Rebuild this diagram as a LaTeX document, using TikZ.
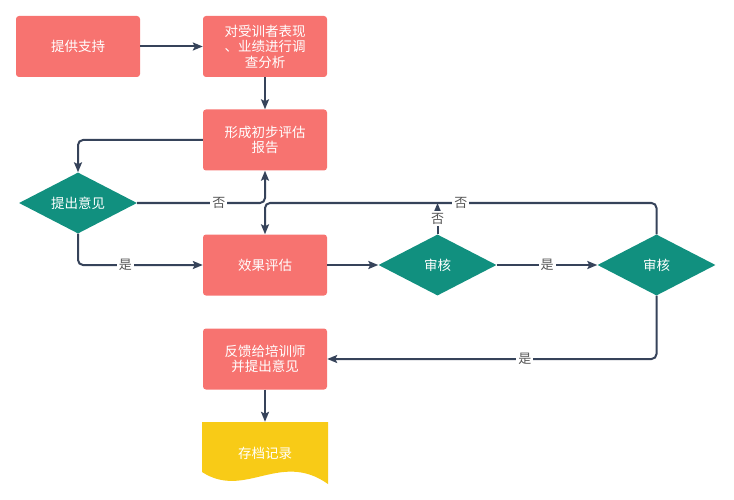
\documentclass[tikz,border=0pt]{standalone}
\usepackage{fontspec}
\setmainfont{Noto Sans CJK SC}
\usepackage{tikz}
\usetikzlibrary{arrows.meta,shapes.geometric,positioning}
\definecolor{boxred}{HTML}{F77370}
\definecolor{decteal}{HTML}{11907F}
\definecolor{docyellow}{HTML}{F8CB17}
\definecolor{flowline}{HTML}{36435A}
\definecolor{labeltext}{HTML}{555555}

\begin{document}
\begin{tikzpicture}[x=1pt,y=-1pt,
    stepbox/.style={fill=boxred, rounded corners=3pt, minimum width=124pt, minimum height=61pt,
        inner sep=0pt, text=white, align=center, font=\fontsize{13.5}{15.5}\selectfont},
    decision/.style={diamond, fill=decteal, aspect=1.93, minimum width=118pt, minimum height=61pt,
        inner sep=0pt, text=white, font=\fontsize{13.5}{15.5}\selectfont},
    flow/.style={draw=flowline, line width=2pt, rounded corners=5pt,
        -{Stealth[length=10pt,width=8pt,inset=2pt]}},
    lbl/.style={fill=white, text=labeltext, inner sep=2pt, rounded corners=0pt,
        font=\fontsize{13}{15}\selectfont}]
    \useasboundingbox (0,0) rectangle (734,500);

    % boxes
    \node[stepbox] (support) at (78,46.5) {提供支持};
    \node[stepbox] (survey) at (265,46.5) {对受训者表现\\、业绩进行调\\查分析};
    \node[stepbox] (report) at (265,140) {形成初步评估\\报告};
    \node[decision] (opinion) at (78,203) {提出意见};
    \node[stepbox] (result) at (265,265) {效果评估};
    \node[decision] (check1) at (437.5,265) {审核};
    \node[decision] (check2) at (656.5,265) {审核};
    \node[stepbox] (feedback) at (265,359) {反馈给培训师\\并提出意见};
    \node[minimum width=126pt, minimum height=62pt, inner sep=0pt] (archive) at (265,453) {};
    \fill[docyellow] (202,422) -- (328,422) -- (328,484)
        .. controls (280,450) and (245,500) .. (202,472) -- cycle;
    \node[text=white, font=\fontsize{13.5}{15.5}\selectfont] at (archive) {存档记录};
    \coordinate (jn) at (265,203);

    % connectors
    \draw[flow] (support) -- (survey);
    \draw[flow] (survey) -- (report);
    \draw[flow] (report.west) -| (opinion.north);
    \draw[flow] (opinion.east) -| node[lbl,pos=0.32] {否} (report.south);
    \draw[flow] (check2.north) -- (check2.north |- jn) -- node[lbl] {否} (jn) -- (result.north);
    \draw[flow] (check1.north) -- node[lbl] {否} (check1.north |- jn);
    \draw[flow] (opinion.south) |- node[lbl,pos=0.69] {是} (result.west);
    \draw[flow] (result) -- (check1);
    \draw[flow] (check1) -- node[lbl] {是} (check2);
    \draw[flow] (check2.south) |- node[lbl,pos=0.7] {是} (feedback.east);
    \draw[flow] (feedback) -- (archive);
\end{tikzpicture}
\end{document}
